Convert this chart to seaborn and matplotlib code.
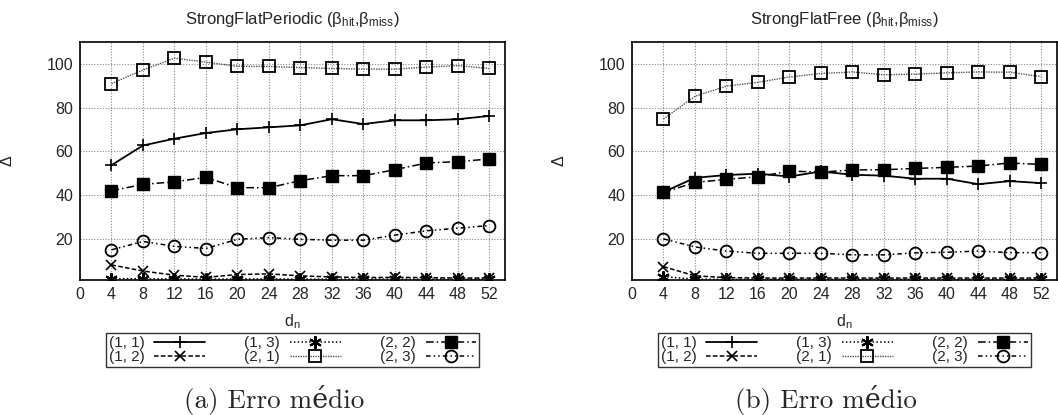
import numpy as np
import pandas as pd
import matplotlib
matplotlib.use("Agg")
import matplotlib.pyplot as plt
import seaborn as sns

sns.set_style("white")
plt.rcParams['font.family'] = ['Liberation Sans', 'DejaVu Sans']
plt.rcParams['mathtext.fontset'] = 'custom'
plt.rcParams['mathtext.rm'] = 'Liberation Sans'
plt.rcParams['mathtext.it'] = 'Liberation Sans:italic'

d_n = [4, 8, 12, 16, 20, 24, 28, 32, 36, 40, 44, 48, 52]
series_labels = ["(1, 1)", "(1, 2)", "(1, 3)", "(2, 1)", "(2, 2)", "(2, 3)"]

periodic_11 = [53.7, 62.7, 65.8, 68.4, 70.1, 71.0, 71.9, 74.7, 72.5, 74.2, 74.2, 74.7, 76.2]
periodic_12 = [8.1, 5.3, 3.4, 2.4, 3.7, 4.0, 3.1, 2.6, 2.3, 2.4, 2.3, 2.1, 2.1]
periodic_13 = [1.8, 1.8, 1.7, 1.6, 1.7, 1.7, 1.6, 1.6, 1.6, 1.6, 1.6, 1.6, 1.6]
periodic_21 = [91.0, 97.2, 102.6, 100.8, 98.9, 98.8, 98.3, 97.9, 97.6, 97.6, 98.5, 99.2, 97.9]
periodic_22 = [42.0, 44.9, 46.1, 48.1, 43.4, 43.4, 46.6, 48.9, 48.9, 51.6, 54.7, 55.3, 56.5]
periodic_23 = [15.0, 18.8, 16.6, 15.6, 19.8, 20.6, 19.8, 19.4, 19.4, 21.7, 23.7, 24.9, 26.1]

free_11 = [41.4, 47.9, 49.2, 49.8, 48.5, 50.8, 49.3, 48.9, 47.5, 47.5, 45.0, 46.4, 45.5]
free_12 = [7.3, 3.1, 2.3, 2.1, 2.1, 2.1, 2.1, 2.1, 2.1, 2.1, 2.1, 2.1, 2.1]
free_13 = [2.7, 1.6, 1.5, 1.5, 1.5, 1.5, 1.5, 1.5, 1.5, 1.5, 1.5, 1.5, 1.5]
free_21 = [74.8, 85.2, 89.8, 91.6, 94.0, 95.6, 96.3, 95.0, 95.3, 95.9, 96.3, 96.2, 94.2]
free_22 = [41.2, 45.8, 47.2, 48.4, 51.0, 50.5, 51.5, 51.6, 52.2, 52.7, 53.3, 54.7, 54.0]
free_23 = [20.0, 16.3, 14.4, 13.4, 13.4, 13.4, 12.7, 12.7, 13.6, 13.9, 14.4, 13.7, 13.7]

x_ticks = list(range(0, 53, 4))
y_ticks = [20, 40, 60, 80, 100]
titles = [r"StrongFlatPeriodic ($\mathrm{\beta}_{\mathrm{hit}}$,$\mathrm{\beta}_{\mathrm{miss}}$)",
          r"StrongFlatFree ($\mathrm{\beta}_{\mathrm{hit}}$,$\mathrm{\beta}_{\mathrm{miss}}$)"]
captions = ["(a) Erro médio", "(b) Erro médio"]

styles = {
    "(1, 1)": dict(ls="-", marker="+", ms=8, mfc="black", color="black", lw=1.3, mew=1.2),
    "(1, 2)": dict(ls=(0, (3, 1.5)), marker="x", ms=7, color="black", lw=1.1, mew=1.2),
    "(1, 3)": dict(ls=(0, (1, 1.5)), marker=(6, 2, 0), ms=9, color="black", lw=1.1, mew=1.5),
    "(2, 1)": dict(ls=(0, (1, 0.8)), marker="s", ms=8, mfc="none", mec="black", color="#555555", lw=1.0, mew=1.3),
    "(2, 2)": dict(ls=(0, (5, 2, 1, 2)), marker="s", ms=9, mfc="black", mec="black", color="black", lw=1.1),
    "(2, 3)": dict(ls=(0, (3, 2, 1, 2, 1, 2)), marker="o", ms=8.5, mfc="none", mec="black", color="black", lw=1.1, mew=1.3),
}

panels = [
    [periodic_11, periodic_12, periodic_13, periodic_21, periodic_22, periodic_23],
    [free_11, free_12, free_13, free_21, free_22, free_23],
]

W, H = 1058, 415
fig = plt.figure(figsize=(W / 100, H / 100), dpi=100)

offsets = [0, 552]
for p, vals in enumerate(panels):
    left = 80 + offsets[p]
    ax = fig.add_axes([left / W, 1 - 280 / H, 425 / W, 238 / H])
    rows = []
    for lab, v in zip(series_labels, vals):
        for x, y in zip(d_n, v):
            rows.append({"d_n": x, "value": y, "series": lab})
    df = pd.DataFrame(rows)
    for lab in series_labels:
        st = styles[lab]
        sub = df[df["series"] == lab]
        sns.lineplot(data=sub, x="d_n", y="value", ax=ax, label=lab,
                     linestyle=st["ls"], marker=st["marker"], markersize=st["ms"],
                     color=st["color"], linewidth=st["lw"],
                     markerfacecolor=st.get("mfc", "black"),
                     markeredgecolor=st.get("mec", "black"),
                     markeredgewidth=st.get("mew", 1.0), zorder=3)
    ax.set_xlim(0, 54)
    ax.set_ylim(1.2, 110)
    ax.set_xticks(x_ticks)
    ax.set_yticks(y_ticks)
    ax.tick_params(axis="both", labelsize=11.5, length=0, pad=5)
    ax.grid(True, color="#888888", linestyle=(0, (1, 1.5)), linewidth=0.8, zorder=0)
    for s in ax.spines.values():
        s.set_color("black")
        s.set_linewidth(1.2)
    ax.set_xlabel(r"d$_\mathrm{n}$", fontsize=11.5)
    ax.xaxis.set_label_coords(0.5, -0.135)
    ax.set_ylabel("Δ", fontsize=11.5)
    ax.yaxis.set_label_coords(-0.153, 0.5)
    ax.set_title(titles[p], fontsize=12, pad=13)
    h, l = ax.get_legend_handles_labels()
    leg = ax.legend(h, l, loc="upper center", bbox_to_anchor=(0.5, -0.222),
                    ncol=3, markerfirst=False, frameon=True, fancybox=False,
                    fontsize=11, handlelength=3.3, handleheight=0.5, labelspacing=0.0,
                    columnspacing=2.6, borderpad=0.2, handletextpad=0.65,
                    edgecolor="black", borderaxespad=0)
    leg.get_frame().set_linewidth(1.0)
    fig.text((274 + offsets[p]) / W, 1 - 400 / H, captions[p],
             ha="center", va="center", fontsize=19.5,
             family=["cmr10", "DejaVu Serif"])

fig.savefig("out.png", dpi=100)
